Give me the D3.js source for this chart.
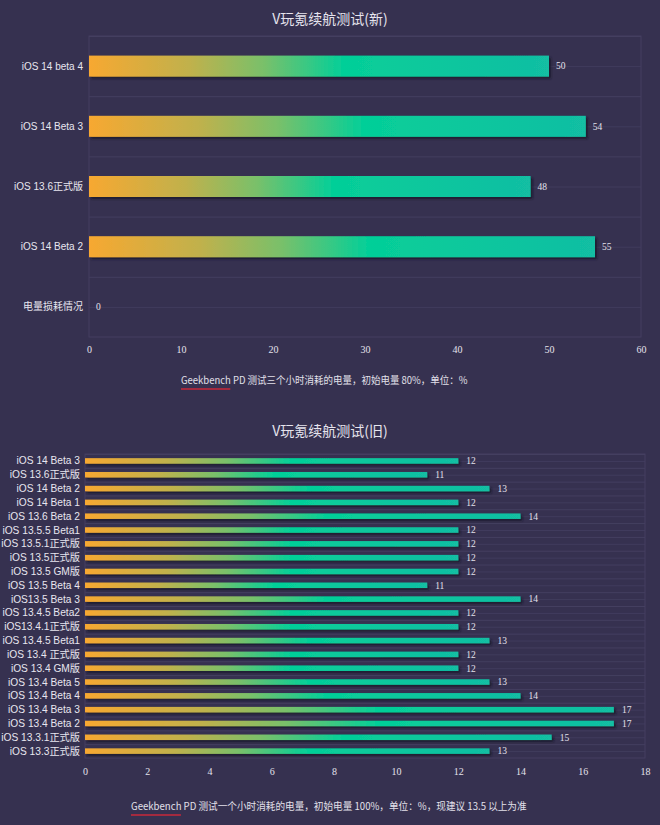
<!DOCTYPE html>
<html><head><meta charset="utf-8">
<script src="https://cdn.jsdelivr.net/npm/d3@7/dist/d3.min.js"></script>
<style>
html,body{margin:0;padding:0;background:#363150;}
svg{display:block;}
</style></head>
<body>
<svg id="c" width="660" height="825"></svg>
<script>
const newTitle = "V玩氪续航测试(新)";
const newCats = ["iOS 14 beta 4","iOS 14 Beta 3","iOS 13.6正式版","iOS 14 Beta 2","电量损耗情况"];
const newVals = [50,54,48,55,0];
const newTicks = [0,10,20,30,40,50,60];
const newNote = "PD 测试三个小时消耗的电量，初始电量 80%，单位：%";

const oldTitle = "V玩氪续航测试(旧)";
const oldCats = ["iOS 14 Beta 3","iOS 13.6正式版","iOS 14 Beta 2","iOS 14 Beta 1","iOS 13.6 Beta 2","iOS 13.5.5 Beta1","iOS 13.5.1正式版","iOS 13.5正式版","iOS 13.5 GM版","iOS 13.5 Beta 4","iOS13.5 Beta 3","iOS 13.4.5 Beta2","iOS13.4.1正式版","iOS 13.4.5 Beta1","iOS 13.4 正式版","iOS 13.4 GM版","iOS 13.4 Beta 5","iOS 13.4 Beta 4","iOS 13.4 Beta 3","iOS 13.4 Beta 2","iOS 13.3.1正式版","iOS 13.3正式版"];
const oldVals = [12,11,13,12,14,12,12,12,12,11,14,12,12,13,12,12,13,14,17,17,15,13];
const oldTicks = [0,2,4,6,8,10,12,14,16,18];
const oldNote = "PD 测试一个小时消耗的电量，初始电量 100%，单位：%，现建议 13.5 以上为准";

const svg = d3.select("#c");
const sans = "'Liberation Sans','Noto Sans CJK SC',Arial,sans-serif";
const cjk = "'Noto Sans CJK SC','Noto Sans',sans-serif";
const serif = "'Liberation Serif','DejaVu Serif',serif";
const gridCol = "#443f60";

const defs = svg.append("defs");
const grad = defs.append("linearGradient").attr("id","bg").attr("x1","0").attr("x2","1").attr("y1","0").attr("y2","0");
[[0,"#f7a831"],[0.22,"#c0b14c"],[0.38,"#79c06a"],[0.55,"#05cf98"],[1,"#12bea3"]].forEach(s=>{
  grad.append("stop").attr("offset",s[0]).attr("stop-color",s[1]);
});
const filt = defs.append("filter").attr("id","sh").attr("x","-5%").attr("y","-50%").attr("width","115%").attr("height","220%");
filt.append("feDropShadow").attr("dx",2).attr("dy",2).attr("stdDeviation",1).attr("flood-color","#15132a").attr("flood-opacity",0.85);

function chart(o){
  const g = svg.append("g");
  const x = d3.scaleLinear().domain([o.ticks[0], o.ticks[o.ticks.length-1]]).range([o.left,o.right]);
  const y = d3.scaleBand().domain(o.cats).range([o.top,o.bottom]);
  g.append("text").attr("x",o.titleX).attr("y",o.titleY).attr("text-anchor","middle")
    .attr("fill","#e6e4ee").attr("font-family",cjk).attr("font-size",14).text(o.title);
  g.append("rect").attr("x",o.left).attr("y",o.top).attr("width",o.right-o.left).attr("height",o.bottom-o.top)
    .attr("fill","none").attr("stroke",gridCol).attr("stroke-width",1);
  o.cats.forEach(c=>{
    const y0 = y(c);
    g.append("line").attr("x1",o.left).attr("x2",o.right).attr("y1",y0+0.5).attr("y2",y0+0.5).attr("stroke",gridCol);
    g.append("line").attr("x1",o.left).attr("x2",o.right).attr("y1",y0+y.bandwidth()/2+0.5).attr("y2",y0+y.bandwidth()/2+0.5).attr("stroke",gridCol).attr("stroke-opacity",0.8);
  });
  o.cats.forEach((c,i)=>{
    const v = o.vals[i];
    const cy = y(c)+y.bandwidth()/2;
    if(v>0){
      g.append("rect").attr("x",x(0)).attr("y",cy-o.barH/2).attr("width",x(v)-x(0)).attr("height",o.barH)
        .attr("fill","url(#bg)").attr("filter","url(#sh)");
    }
    g.append("text").attr("x",x(v)+o.valPad).attr("y",cy).attr("dy","0.35em")
      .attr("fill","#e4e2ec").attr("font-family",serif).attr("font-size",o.valFs).text(v);
    g.append("text").attr("x",o.left-o.labPad).attr("y",cy).attr("dy","0.35em").attr("text-anchor","end")
      .attr("fill","#e8e6ef").attr("font-family",sans).attr("font-size",o.labFs).text(c);
  });
  const ax = g.append("g").attr("transform",`translate(0,${o.axisY})`)
    .call(d3.axisBottom(x).tickValues(o.ticks).tickSize(0).tickPadding(0));
  ax.select(".domain").remove();
  ax.selectAll("text").attr("fill","#e4e2ec").attr("font-family",serif).attr("font-size",10);
  // note, compressed horizontally to the reference width
  const ng = g.append("g");
  const note = ng.append("text").attr("x",0).attr("y",0).attr("fill","#e2e0ea")
    .attr("font-family",cjk).attr("font-size",10.5);
  note.append("tspan").text("Geekbench ");
  note.append("tspan").text(o.note);
  const gw = note.select("tspan").node().getComputedTextLength();
  const tw = note.node().getComputedTextLength();
  const k = o.noteW / tw;
  ng.append("path").attr("d",`M0,5 L${gw-3},5`)
    .attr("stroke","#c8283a").attr("stroke-width",1.3).attr("fill","none").attr("vector-effect","non-scaling-stroke");
  ng.attr("transform",`translate(${o.noteX},${o.noteY}) scale(${k},1)`);
}

chart({title:newTitle,cats:newCats,vals:newVals,ticks:newTicks,note:newNote,
  left:89,right:641,top:36,bottom:337,barH:21,titleX:330,titleY:24,axisY:346,
  valPad:7,valFs:9.5,labPad:6,labFs:10,noteX:181,noteY:384,noteW:287});

chart({title:oldTitle,cats:oldCats,vals:oldVals,ticks:oldTicks,note:oldNote,
  left:85,right:645,top:454,bottom:758,barH:5.5,titleX:330,titleY:436,axisY:768,
  valPad:8,valFs:9.5,labPad:5,labFs:10.2,noteX:131,noteY:810,noteW:396});
</script>
</body></html>
